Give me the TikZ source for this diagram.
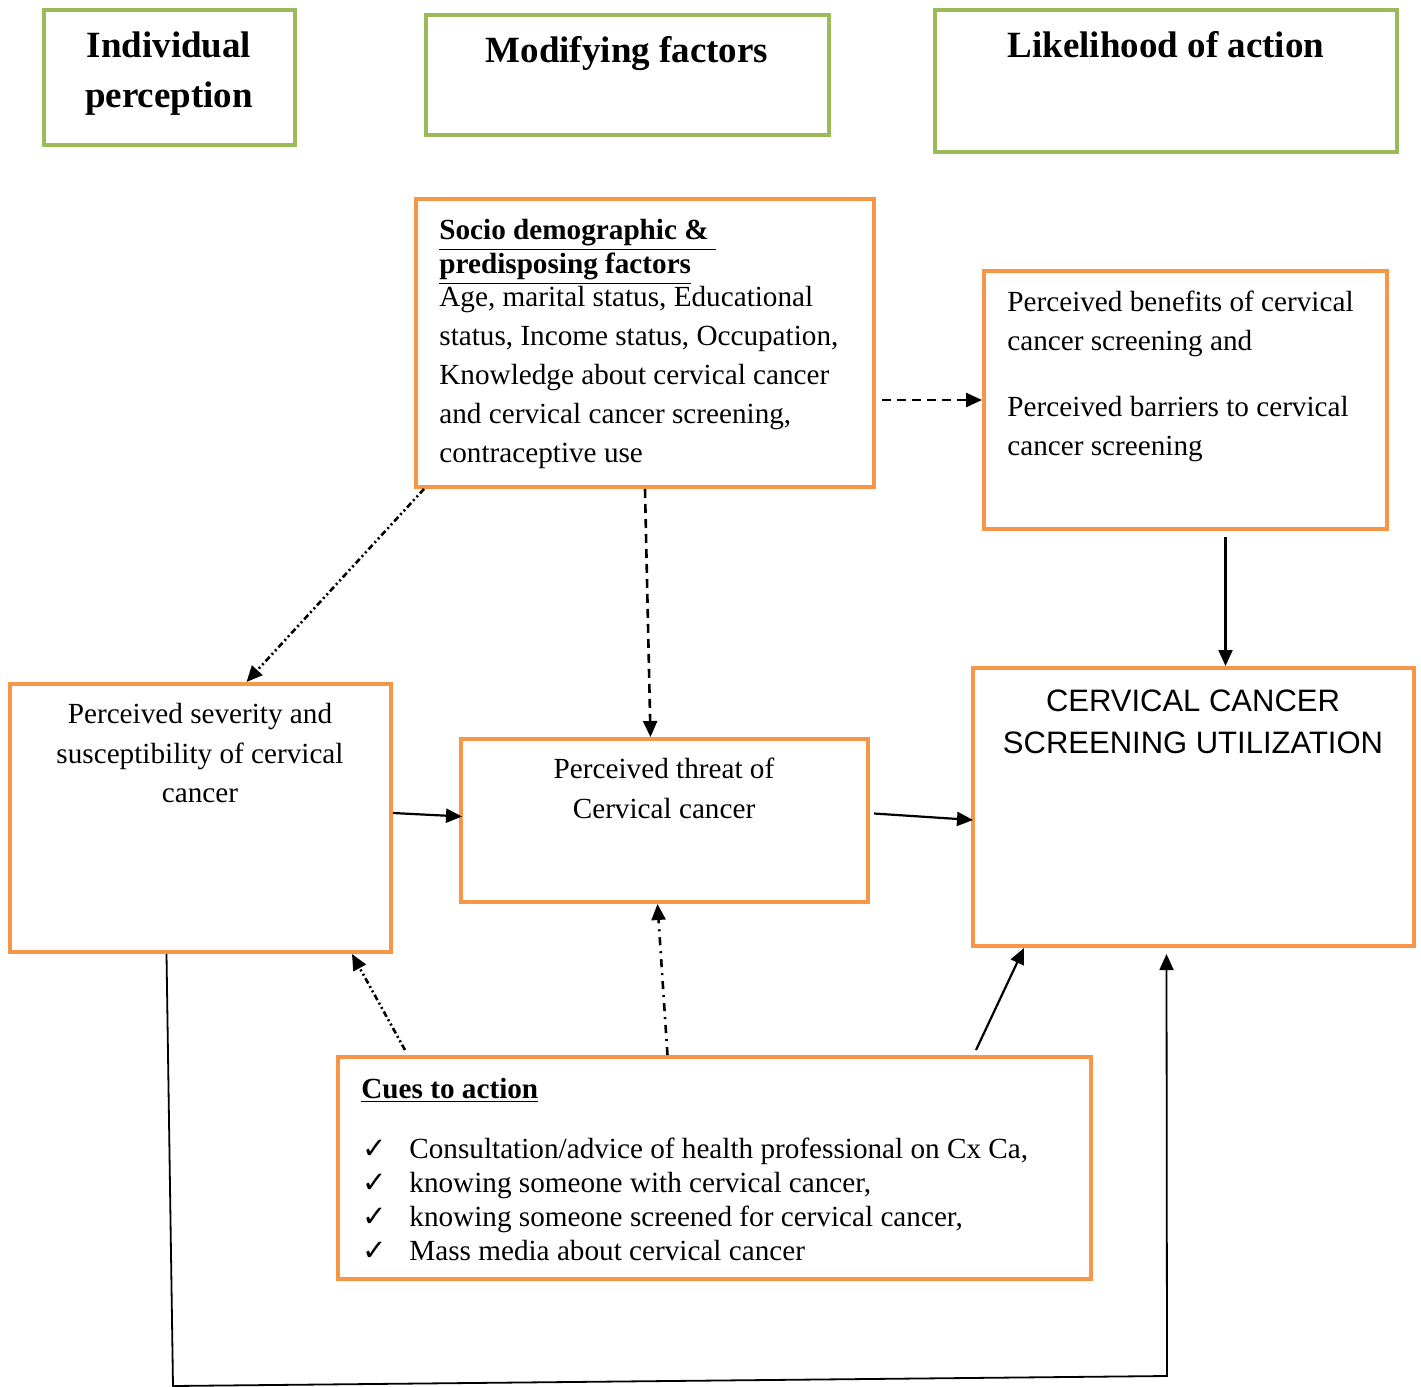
\documentclass[tikz,border=0pt]{standalone}
\usepackage{fontspec}
\setmainfont{Liberation Serif}
\newfontfamily\arialfont{Liberation Sans}
\newfontfamily\tickfont{DejaVu Sans}
\usetikzlibrary{positioning, arrows.meta, fit, calc}
\definecolor{hdrgreen}{RGB}{155,187,89}
\definecolor{boxorange}{RGB}{247,150,70}
\newcommand{\tick}{\makebox[23.5pt][l]{\tickfont ✓}}

\begin{document}
\begin{tikzpicture}[
        x=0.5pt, y=-0.5pt,
        hdr/.style={draw=hdrgreen, line width=2pt, inner sep=0pt},
        obox/.style={draw=boxorange, line width=2pt, inner sep=0pt},
        title/.style={font=\fontsize{18.5}{25}\selectfont\bfseries, align=center, inner sep=0pt, anchor=north},
        txt/.style={font=\fontsize{14.6}{19.5}\selectfont, inner sep=0pt},
        arrow/.style={-{Triangle[length=8pt, width=7pt]}, line width=1.1pt},
        dsh/.style={arrow, line width=1.3pt, dash pattern=on 4.5pt off 3pt},
        ddot/.style={arrow, line width=1.3pt, dash pattern=on 3pt off 1.5pt on 1pt off 1.5pt on 1pt off 1.5pt},
        dshdot/.style={arrow, line width=1.3pt, dash pattern=on 4pt off 3pt on 1pt off 3pt}
    ]
    \useasboundingbox (0,0) rectangle (1421,1387);

    % headers
    \node[hdr, fit={(44,10) (295,145)}] (Indiv) {};
    \node[hdr, fit={(426,15) (829,135)}] (Modif) {};
    \node[hdr, fit={(935,10) (1397,152)}] (Likel) {};
    \node[title] (IndivTxt) at (169,31) {Individual\\perception};
    \node[title] (ModifTxt) at (627,36) {Modifying factors};
    \node[title] (LikelTxt) at (1166,31) {Likelihood of action};

    % boxes
    \node[obox, fit={(416,199) (874,487)}] (Socio) {};
    \node[obox, fit={(984,271) (1387,529)}] (Benefits) {};
    \node[obox, fit={(10,684) (391,952)}] (Severity) {};
    \node[obox, fit={(461,739) (868,902)}] (Threat) {};
    \node[obox, fit={(973,668) (1414,946)}] (CCSU) {};
    \node[obox, fit={(338,1057) (1091,1279)}] (Cues) {};

    \node[txt, font=\fontsize{14.6}{17}\selectfont\bfseries, align=left, anchor=north west] (SocioHead) at (439,219)
        {\underline{Socio demographic \&\ }\\\underline{predisposing factors}};
    \node[txt, align=left, anchor=north west] (SocioTxt) at (439,286)
        {Age, marital status, Educational\\status, Income status, Occupation,\\Knowledge about cervical cancer\\and cervical cancer screening,\\contraceptive use};
    \node[txt, align=left, anchor=north west] (BenefitsTxt) at (1007,291)
        {Perceived benefits of cervical\\cancer screening and\\[13.5pt]Perceived barriers to cervical\\cancer screening};
    \node[txt, align=center, anchor=north, font=\fontsize{14.6}{19.75}\selectfont] (SeverityTxt) at (200,703)
        {Perceived severity and\\susceptibility of cervical\\cancer};
    \node[txt, align=center, anchor=north, font=\fontsize{14.6}{20}\selectfont] (ThreatTxt) at (664,758)
        {Perceived threat of\\Cervical cancer};
    \node[txt, align=center, anchor=north, font=\fontsize{15.5}{21}\arialfont] (CCSUTxt) at (1193,689)
        {CERVICAL CANCER\\SCREENING UTILIZATION};
    \node[txt, font=\fontsize{14.6}{17}\selectfont\bfseries, anchor=north west] (CuesHead) at (361,1078)
        {\underline{Cues to action}};
    \node[txt, align=left, anchor=north west, font=\fontsize{14.6}{17}\selectfont] (CuesTxt) at (362,1138)
        {\tick Consultation/advice of health professional on Cx Ca,\\
         \tick knowing someone with cervical cancer,\\
         \tick knowing someone screened for cervical cancer,\\
         \tick Mass media about cervical cancer};

    % connectors
    \draw[dsh] ($(Socio.east |- Benefits.west)+(6,0)$) -- (Benefits.west);
    \draw[ddot] ($(Socio.south west)+(10,0)$) -- ($(Severity.north)+(46,0)$);
    \draw[dsh] (Socio.south) -- ($(Threat.north)+(-14,0)$);
    \draw[arrow] ($(Benefits.south)+(40,6)$) -- ($(CCSU.north)+(32,0)$);
    \draw[arrow] ($(Severity.east)+(0,-5)$) -- ($(Threat.west)+(3,-4)$);
    \draw[arrow] ($(Threat.east)+(4,-7)$) -- ($(CCSU.west)+(2,13)$);
    \draw[ddot] ($(Cues.north west)+(69,-5)$) -- ($(Severity.south east)+(-41,0)$);
    \draw[dshdot] ($(Cues.north)+(-47,0)$) -- ($(Threat.south)+(-7,0)$);
    \draw[arrow] ($(Cues.north east)+(-117,-5)$) -- ($(CCSU.south west)+(53,0)$);

    \coordinate (LoopL) at (173,1386);
    \coordinate (LoopR) at (1167,1376);
    \draw[arrow, line width=0.9pt] ($(Severity.south)+(-34,0)$) -- (LoopL) -- (LoopR) -- ($(CCSU.south)+(-27,6)$);
\end{tikzpicture}
\end{document}
